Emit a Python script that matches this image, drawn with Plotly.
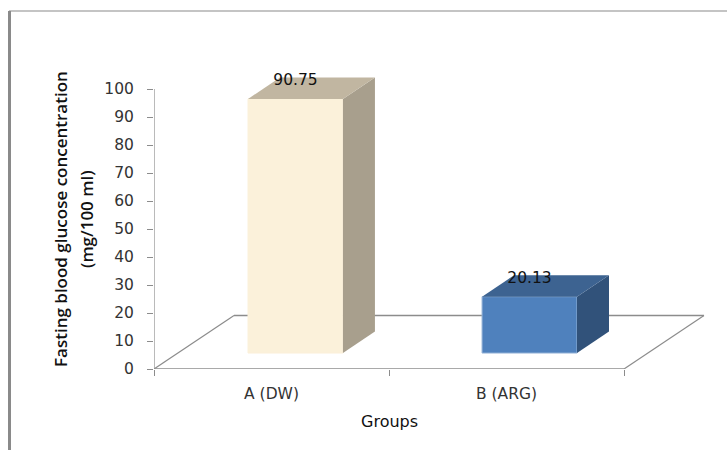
import plotly.graph_objects as go

categories = ["A (DW)", "B (ARG)"]
values = [90.75, 20.13]
value_labels = ["90.75", "20.13"]
y_ticks = [0, 10, 20, 30, 40, 50, 60, 70, 80, 90, 100]

front_colors = ["#FBF1DA", "#4F81BD"]
side_colors = ["#A89F8D", "#31527A"]
top_colors = ["#C1B6A1", "#3D6391"]
edge_colors = ["#FBF1DA", "#95B3D7"]

W, H = 727, 450
L, R, T, B = 154, 7, 60, 81
PX_X = 235.0
PX_Y = 2.8
x0 = -0.5
x1 = x0 + (W - L - R) / PX_X
y1 = (H - T - B) / PX_Y

centers = [i + (0.102 if i == 0 else 0.098) for i in range(len(categories))]
bar_w = 0.404
base = 5.7
bar_dx, bar_dy = 32 / PX_X, 21.5 / PX_Y
floor_dx, floor_dy = 80 / PX_X, 53.5 / PX_Y
AXIS = "#8C8C8C"

fig = go.Figure()
fig.add_trace(go.Bar(
    x=centers, y=values, base=[base] * len(values), width=bar_w,
    marker=dict(color=front_colors, line=dict(color=edge_colors, width=1)),
    showlegend=False, hoverinfo="skip"))

for c, v, sc, tc in zip(centers, values, side_colors, top_colors):
    l, r = c - bar_w / 2, c + bar_w / 2
    b, t = base, base + v
    fig.add_trace(go.Scatter(
        x=[r, r + bar_dx, r + bar_dx, r, r], y=[b, b + bar_dy, t + bar_dy, t, b],
        mode="lines", fill="toself", fillcolor=sc, line=dict(width=0, color=sc),
        showlegend=False, hoverinfo="skip"))
    fig.add_trace(go.Scatter(
        x=[l, l + bar_dx, r + bar_dx, r, l], y=[t, t + bar_dy, t + bar_dy, t, t],
        mode="lines", fill="toself", fillcolor=tc, line=dict(width=0, color=tc),
        showlegend=False, hoverinfo="skip"))

fig.add_trace(go.Scatter(
    x=centers, y=[v + 12.1 for v in values], mode="text", text=value_labels,
    textfont=dict(family="DejaVu Sans", size=15.5, color="#111111"),
    textposition="middle center", showlegend=False, hoverinfo="skip"))


def seg(xa, ya, xb, yb, width=1.2, color=AXIS):
    return dict(type="line", layer="below", xref="x", yref="y", x0=xa, y0=ya, x1=xb, y1=yb,
                line=dict(color=color, width=width))


xe = x0 + len(categories)
shapes = [
    seg(x0, 0, x0, 100),
    seg(x0, 0, xe, 0, 1.6),
    seg(x0, 0, x0 + floor_dx, floor_dy),
    seg(xe, 0, xe + floor_dx, floor_dy),
    seg(x0 + floor_dx, floor_dy, xe + floor_dx, floor_dy, 1.4),
]
# outer frame of the chart
px = lambda p: (p - L) / (W - L - R)
py = lambda p: 1 - (p - T) / (H - T - B)
for a, b, c, d, w in [(9.5, 11, 9.5, 450, 3), (9, 11, 727, 11, 1.2)]:
    shapes.append(dict(type="line", xref="paper", yref="paper", x0=px(a), y0=py(b), x1=px(c), y1=py(d),
                       line=dict(color="#8A8A8A", width=w)))

annotations = [
    dict(text="Fasting blood glucose concentration", xref="paper", yref="paper",
         x=px(60), y=py(219), xanchor="center", yanchor="middle", textangle=-90, showarrow=False,
         font=dict(family="Open Sans", size=17, color="#111111", weight=600)),
    dict(text="(mg/100 ml)", xref="paper", yref="paper",
         x=px(86), y=py(219), xanchor="center", yanchor="middle", textangle=-90, showarrow=False,
         font=dict(family="Open Sans", size=17, color="#111111", weight=600)),
    dict(text="Groups", xref="paper", yref="paper", x=px(389), y=py(421),
         xanchor="center", yanchor="middle", showarrow=False,
         font=dict(family="DejaVu Sans", size=16, color="#111111")),
]

fig.update_layout(
    width=W, height=H, margin=dict(l=L, r=R, t=T, b=B, pad=0),
    paper_bgcolor="white", plot_bgcolor="white", showlegend=False,
    shapes=shapes, annotations=annotations, barmode="overlay",
    xaxis=dict(range=[x0, x1], tickmode="array", tickvals=list(range(len(categories))),
               ticktext=categories, ticks="", showgrid=False, zeroline=False, showline=False,
               ticklabelstandoff=13,
               tickfont=dict(family="DejaVu Sans", size=15.5, color="#333333"),
               minor=dict(tickmode="array", tickvals=[x0 + i for i in range(len(categories) + 1)],
                          ticks="outside", ticklen=6, tickcolor=AXIS, tickwidth=1.2, showgrid=False)),
    yaxis=dict(range=[0, y1], tickmode="array", tickvals=y_ticks, ticks="outside", ticklen=6,
               tickcolor=AXIS, tickwidth=1.2, showgrid=False, zeroline=False, showline=False,
               ticklabelstandoff=10,
               tickfont=dict(family="DejaVu Sans", size=15.5, color="#333333")),
)
fig.write_html("out.html", post_script="document.body.style.margin='0';",
               config={"displayModeBar": False})
